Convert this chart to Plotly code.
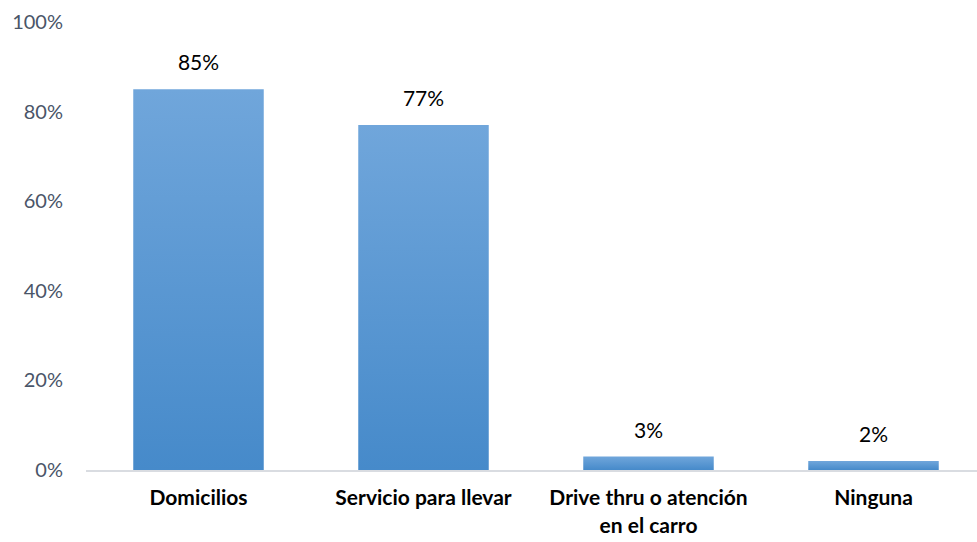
import plotly.graph_objects as go

# Data
categories = ["Domicilios", "Servicio para llevar", "Drive thru o atención<br>en el carro", "Ninguna"]
values = [85, 77, 3, 2]
value_labels = ["85%", "77%", "3%", "2%"]
y_ticks = [0, 20, 40, 60, 80, 100]
y_tick_labels = ["0%", "20%", "40%", "60%", "80%", "100%"]

BAR_WIDTH = 0.58
TOP_COLOR = "#70A6DB"
BOTTOM_COLOR = "#468ACA"
FONT = "Lato, 'Open Sans', sans-serif"

fig = go.Figure()

# Each bar is a filled rectangle with its own vertical gradient
for i, v in enumerate(values):
    x0, x1 = i - BAR_WIDTH / 2, i + BAR_WIDTH / 2
    fig.add_trace(go.Scatter(
        x=[x0, x1, x1, x0, x0],
        y=[0, 0, v, v, 0],
        mode="lines",
        line=dict(width=0),
        fill="toself",
        fillgradient=dict(
            type="vertical",
            colorscale=[[0, BOTTOM_COLOR], [1, TOP_COLOR]],
        ),
        hoverinfo="skip",
        showlegend=False,
    ))

# Value labels above each bar
fig.add_trace(go.Scatter(
    x=list(range(len(values))),
    y=values,
    mode="markers+text",
    marker=dict(size=20, opacity=0),
    text=value_labels,
    textposition="top center",
    textfont=dict(family=FONT, size=21, color="#000000"),
    hovertemplate="%{text}<extra></extra>",
    showlegend=False,
))

fig.update_layout(
    width=977,
    height=542,
    margin=dict(l=86, r=0, t=22, b=72),
    paper_bgcolor="white",
    plot_bgcolor="white",
    showlegend=False,
    xaxis=dict(
        range=[-0.5, 3.46],
        tickmode="array",
        tickvals=list(range(len(categories))),
        ticktext=categories,
        tickfont=dict(family=FONT, size=21, color="#000000", weight="bold"),
        showgrid=False,
        zeroline=False,
        showline=True,
        linecolor="#D9DCE1",
        linewidth=2,
        ticks="",
        ticklabelstandoff=8,
        fixedrange=True,
    ),
    yaxis=dict(
        range=[0, 100],
        tickmode="array",
        tickvals=y_ticks,
        ticktext=y_tick_labels,
        tickfont=dict(family=FONT, size=20, color="#4A5568"),
        showgrid=False,
        zeroline=False,
        showline=False,
        ticks="",
        ticklabelstandoff=22,
        fixedrange=True,
    ),
)

fig.write_html("out.html")
